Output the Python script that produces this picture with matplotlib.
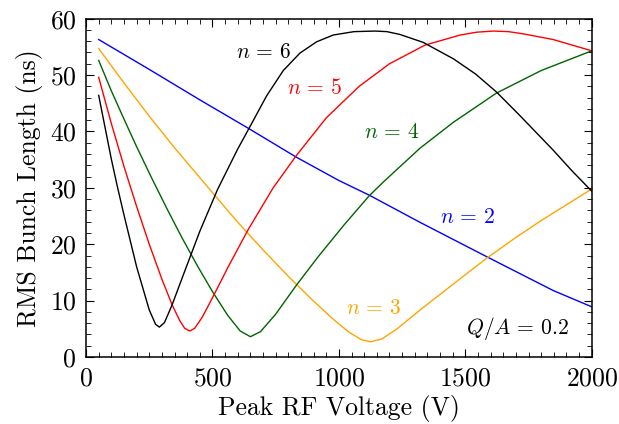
import numpy as np
import matplotlib
matplotlib.use("Agg")
from matplotlib import pyplot as plt
from matplotlib.ticker import MultipleLocator

plt.rcParams["font.family"] = "serif"
plt.rcParams["font.serif"] = ["cmr10"]
plt.rcParams["mathtext.fontset"] = "cm"
plt.rcParams["axes.unicode_minus"] = False
plt.rcParams["axes.formatter.use_mathtext"] = True
plt.rcParams["font.size"] = 18.5

# values (peak RF voltage in V, rms bunch length in ns)
v_n2 = [50, 250, 450, 644, 833, 1000, 1120, 1320, 1584, 1847, 2000]
s_n2 = [56.3, 51.0, 45.6, 40.5, 35.4, 31.3, 28.7, 23.9, 17.8, 11.8, 8.9]

v_n3 = [50, 150, 250, 350, 480, 600, 700, 800, 900, 980, 1040, 1090, 1125,
        1170, 1230, 1320, 1420, 1500, 1590, 1700, 1800, 1900, 2000]
s_n3 = [54.7, 48.6, 42.7, 37.1, 30.2, 23.9, 19.0, 14.3, 9.9, 6.6, 4.4, 3.05, 2.7,
        3.2, 5.0, 8.3, 11.8, 14.6, 17.7, 21.2, 24.2, 27.0, 29.8]

v_n4 = [50, 100, 150, 200, 260, 320, 380, 440, 500, 560, 610, 650, 690, 750,
        833, 920, 1020, 1120, 1175, 1320, 1452, 1623, 1800, 2000]
s_n4 = [52.6, 47.2, 42.2, 37.3, 31.7, 26.3, 21.1, 16.2, 11.6, 7.4, 4.6, 3.6, 4.5, 7.6,
        12.8, 17.9, 23.4, 28.6, 31.0, 37.0, 41.6, 46.8, 50.8, 54.3]

v_n5 = [50, 100, 150, 200, 250, 300, 340, 370, 390, 410, 430, 460, 500, 560,
        640, 740, 833, 950, 1080, 1200, 1340, 1480, 1545, 1610, 1670, 1730,
        1847, 2000]
s_n5 = [49.6, 41.4, 33.8, 26.7, 20.0, 13.8, 9.3, 6.5, 5.1, 4.6, 5.1, 7.1, 10.5, 15.8,
        22.5, 30.0, 35.8, 42.4, 48.0, 52.0, 55.3, 57.1, 57.6, 57.8, 57.7, 57.3,
        56.3, 54.3]

v_n6 = [50, 100, 124, 150, 200, 250, 275, 290, 310, 340, 380, 450, 520, 600,
        644, 714, 780, 846, 912, 978, 1060, 1142, 1190, 1241, 1333, 1452, 1540,
        1623, 1716, 1847, 1920, 2000]
s_n6 = [46.4, 35.1, 30.2, 25.2, 16.0, 8.35, 5.8, 5.3, 6.1, 9.2, 14.0, 22.3, 29.7, 36.9,
        40.5, 46.3, 50.8, 53.9, 55.9, 57.1, 57.7, 57.8, 57.7, 57.2, 55.8, 52.9, 50.2,
        47.0, 42.8, 36.7, 33.1, 29.4]

fig = plt.figure(figsize=(6.19, 4.24), dpi=100)
ax = fig.add_axes([0.139, 0.158, 0.817, 0.798])

lw = 1.0
ax.plot(v_n2, s_n2, color="#0000ff", lw=lw)
ax.plot(v_n3, s_n3, color="orange", lw=lw)
ax.plot(v_n4, s_n4, color="#006400", lw=lw)
ax.plot(v_n5, s_n5, color="#ff0000", lw=lw)
ax.plot(v_n6, s_n6, color="black", lw=lw)

fs = 15.5
ax.text(703, 54.0, r"$n\,=\,6$", color="black", ha="center", va="center", fontsize=fs)
ax.text(905, 47.7, r"$n\,=\,5$", color="#ff0000", ha="center", va="center", fontsize=fs)
ax.text(1210, 39.9, r"$n\,=\,4$", color="#006400", ha="center", va="center", fontsize=fs)
ax.text(1510, 24.8, r"$n\,=\,2$", color="#0000ff", ha="center", va="center", fontsize=fs)
ax.text(1139, 8.7, r"$n\,=\,3$", color="orange", ha="center", va="center", fontsize=fs)
ax.text(1707, 5.1, r"$Q/A\,=\,0.2$", color="black", ha="center", va="center", fontsize=fs)

ax.set_xlim(0, 2000)
ax.set_ylim(0, 60)
ax.xaxis.set_major_locator(MultipleLocator(500))
ax.xaxis.set_minor_locator(MultipleLocator(50))
ax.yaxis.set_major_locator(MultipleLocator(10))
ax.yaxis.set_minor_locator(MultipleLocator(2))
ax.tick_params(which="both", direction="in", top=True, right=True)
ax.tick_params(which="major", length=6, width=0.8, pad=7)
ax.tick_params(which="minor", length=3.5, width=0.6)
for sp in ax.spines.values():
    sp.set_linewidth(1.1)

ax.set_xlabel("Peak RF Voltage (V)", labelpad=3)
ax.set_ylabel("RMS Bunch Length (ns)", labelpad=5)

fig.savefig("out.png", dpi=100)
